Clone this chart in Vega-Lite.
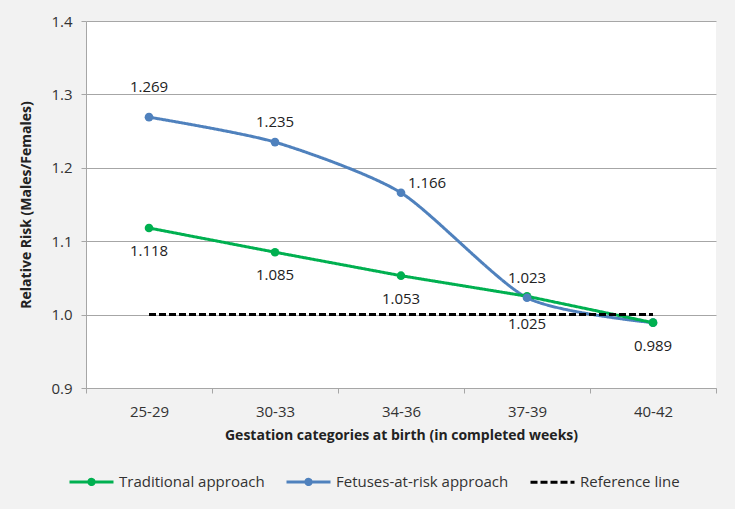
{
  "$schema": "https://vega.github.io/schema/vega-lite/v6.json",
  "width": 630,
  "height": 367,
  "autosize": {"type": "none"},
  "padding": {"left": 86, "top": 21, "right": 19, "bottom": 121},
  "background": "#f2f2f2",
  "config": {"view": {"fill": "white", "stroke": null}, "font": "Open Sans"},
  "data": {
    "values": [
      {"cat": "25-29", "series": "Traditional approach", "value": 1.118},
      {"cat": "25-29", "series": "Fetuses-at-risk approach", "value": 1.269},
      {"cat": "25-29", "series": "Reference line", "value": 1.0},
      {"cat": "30-33", "series": "Traditional approach", "value": 1.085},
      {"cat": "30-33", "series": "Fetuses-at-risk approach", "value": 1.235},
      {"cat": "30-33", "series": "Reference line", "value": 1.0},
      {"cat": "34-36", "series": "Traditional approach", "value": 1.053},
      {"cat": "34-36", "series": "Fetuses-at-risk approach", "value": 1.166},
      {"cat": "34-36", "series": "Reference line", "value": 1.0},
      {"cat": "37-39", "series": "Traditional approach", "value": 1.025},
      {"cat": "37-39", "series": "Fetuses-at-risk approach", "value": 1.023},
      {"cat": "37-39", "series": "Reference line", "value": 1.0},
      {"cat": "40-42", "series": "Fetuses-at-risk approach", "value": 0.989},
      {"cat": "40-42", "series": "Traditional approach", "value": 0.989},
      {"cat": "40-42", "series": "Reference line", "value": 1.0}
    ]
  },
  "encoding": {
    "x": {
      "field": "cat",
      "type": "ordinal",
      "sort": ["25-29", "30-33", "34-36", "37-39", "40-42"],
      "scale": {"type": "band", "paddingInner": 0, "paddingOuter": 0},
      "axis": {
        "title": "Gestation categories at birth (in completed weeks)",
        "labelAngle": 0,
        "tickBand": "extent",
        "grid": false,
        "domainColor": "#a6a6a6",
        "tickColor": "#a6a6a6",
        "tickSize": 5,
        "labelFontSize": 15,
        "labelColor": "#333333",
        "labelPadding": 11,
        "titleFontSize": 14,
        "titleFontWeight": "bold",
        "titleColor": "#222222",
        "titlePadding": 9
      }
    },
    "y": {
      "field": "value",
      "type": "quantitative",
      "scale": {"domain": [0.9, 1.4], "nice": false, "zero": false},
      "axis": {
        "title": "Relative Risk (Males/Females)",
        "values": [0.9, 1.0, 1.1, 1.2, 1.3, 1.4],
        "format": ".1f",
        "grid": true,
        "gridColor": "#a6a6a6",
        "domainColor": "#a6a6a6",
        "tickColor": "#a6a6a6",
        "tickSize": 5,
        "labelPadding": 9,
        "labelFontSize": 15,
        "labelColor": "#333333",
        "titleFontSize": 14,
        "titleFontWeight": "bold",
        "titleColor": "#222222",
        "titlePadding": 17
      }
    }
  },
  "layer": [
    {
      "transform": [{"filter": "datum.series === 'Fetuses-at-risk approach'"}],
      "mark": {"type": "line", "interpolate": "cardinal", "tension": 0.3, "strokeWidth": 3},
      "encoding": {
        "stroke": {
          "field": "series", "type": "nominal",
          "scale": {"domain": ["Traditional approach", "Fetuses-at-risk approach", "Reference line"], "range": ["#00b050", "#4f81bd", "#000000"]},
          "legend": {
            "orient": "none", "legendX": -18, "legendY": 437, "title": null, "direction": "horizontal", "columnPadding": 15,
            "labelFontSize": 15, "labelColor": "#333333", "labelLimit": 400, "symbolSize": 1936, "symbolStrokeWidth": 3, "labelOffset": 4,
            "encode": {"symbols": {"update": {
              "shape": {"signal": "datum.value === 'Reference line' ? 'M-1,0H1' : 'M-1,0H1M-0.12,0a0.12,0.12 0 1,0 0.24,0a0.12,0.12 0 1,0 -0.24,0'"},
              "fill": {"signal": "datum.value === 'Traditional approach' ? '#00b050' : datum.value === 'Fetuses-at-risk approach' ? '#4f81bd' : 'transparent'"}
            }}}
          }
        },
        "strokeDash": {
          "field": "series", "type": "nominal",
          "scale": {"domain": ["Traditional approach", "Fetuses-at-risk approach", "Reference line"], "range": [[1, 0], [1, 0], [7, 3]]},
          "legend": {
            "orient": "none", "legendX": -18, "legendY": 437, "title": null, "direction": "horizontal", "columnPadding": 15,
            "labelFontSize": 15, "labelColor": "#333333", "labelLimit": 400, "symbolSize": 1936, "symbolStrokeWidth": 3, "labelOffset": 4,
            "encode": {"symbols": {"update": {
              "shape": {"signal": "datum.value === 'Reference line' ? 'M-1,0H1' : 'M-1,0H1M-0.12,0a0.12,0.12 0 1,0 0.24,0a0.12,0.12 0 1,0 -0.24,0'"},
              "fill": {"signal": "datum.value === 'Traditional approach' ? '#00b050' : datum.value === 'Fetuses-at-risk approach' ? '#4f81bd' : 'transparent'"}
            }}}
          }
        }
      }
    },
    {
      "transform": [{"filter": "datum.series !== 'Fetuses-at-risk approach'"}],
      "mark": {"type": "line", "interpolate": "linear", "strokeWidth": 3},
      "encoding": {
        "stroke": {"field": "series", "type": "nominal"},
        "strokeDash": {"field": "series", "type": "nominal"}
      }
    },
    {
      "transform": [{"filter": "datum.series !== 'Reference line'"}],
      "mark": {"type": "circle", "size": 75, "opacity": 1},
      "encoding": {
        "color": {
          "field": "series", "type": "nominal",
          "scale": {"domain": ["Traditional approach", "Fetuses-at-risk approach"], "range": ["#00b050", "#4f81bd"]},
          "legend": null
        }
      }
    },
    {
      "transform": [{"filter": "datum.series === 'Fetuses-at-risk approach' && datum.cat === '25-29'"}],
      "mark": {"type": "text", "fontSize": 15, "color": "#222222", "dy": -30},
      "encoding": {"text": {"field": "value", "type": "quantitative", "format": ".3f"}}
    },
    {
      "transform": [{"filter": "datum.series === 'Fetuses-at-risk approach' && (datum.cat === '30-33' || datum.cat === '37-39')"}],
      "mark": {"type": "text", "fontSize": 15, "color": "#222222", "dy": -20},
      "encoding": {"text": {"field": "value", "type": "quantitative", "format": ".3f"}}
    },
    {
      "transform": [{"filter": "datum.series === 'Fetuses-at-risk approach' && datum.cat === '34-36'"}],
      "mark": {"type": "text", "fontSize": 15, "color": "#222222", "dx": 26, "dy": -10},
      "encoding": {"text": {"field": "value", "type": "quantitative", "format": ".3f"}}
    },
    {
      "transform": [{"filter": "datum.series === 'Traditional approach' && datum.cat !== '37-39'"}],
      "mark": {"type": "text", "fontSize": 15, "color": "#222222", "dy": 23},
      "encoding": {"text": {"field": "value", "type": "quantitative", "format": ".3f"}}
    },
    {
      "transform": [{"filter": "datum.series === 'Traditional approach' && datum.cat === '37-39'"}],
      "mark": {"type": "text", "fontSize": 15, "color": "#222222", "dy": 28},
      "encoding": {"text": {"field": "value", "type": "quantitative", "format": ".3f"}}
    }
  ]
}
